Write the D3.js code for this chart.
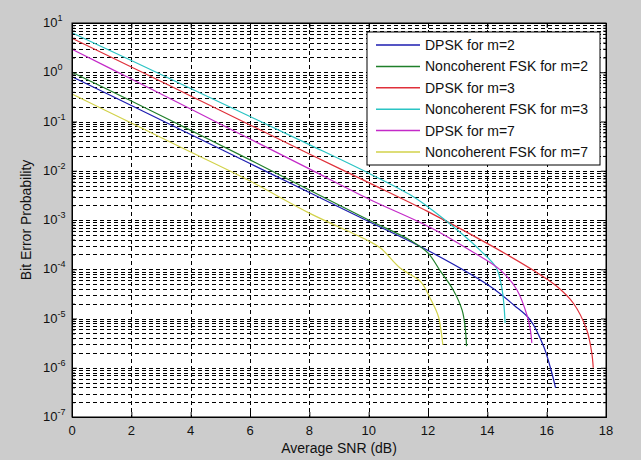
<!DOCTYPE html>
<html>
<head>
<meta charset="utf-8">
<script src="https://cdn.jsdelivr.net/npm/d3@7"></script>
<style>
  body { margin: 0; background: #cccccc; }
  svg { display: block; font-family: "Liberation Sans", Arial, sans-serif; }
</style>
</head>
<body>
<svg id="chart"></svg>
<script>
// Average SNR (dB) and bit error probability
const snrDpsk2 = [0, 2, 4, 6, 8, 10, 12, 14.1, 14.9, 15.45, 15.9, 16.15, 16.3];
const berDpsk2 = [0.81, 0.211, 0.0545, 0.014, 3.61e-3, 9.33e-4, 2.4e-4, 4.47e-5, 1.86e-5, 9.3e-6, 2.7e-6, 8.9e-7, 3.9e-7];

const snrFsk2 = [0, 2, 4, 6, 8, 10, 11.4, 12, 12.4, 12.85, 13.15, 13.25, 13.3];
const berFsk2 = [1.0, 0.261, 0.0661, 0.0166, 4.07e-3, 1.0e-3, 3.89e-4, 2.14e-4, 9.5e-5, 3.8e-5, 1.48e-5, 6.8e-6, 2.75e-6];

const snrDpsk3 = [0, 2, 4, 6, 8, 10, 12, 14.1, 15.55, 16.35, 16.9, 17.35, 17.52, 17.57];
const berDpsk3 = [4.89, 1.28, 0.33, 0.0851, 0.0219, 5.75e-3, 1.48e-3, 3.09e-4, 9.5e-5, 4.47e-5, 2.04e-5, 5.9e-6, 2.0e-6, 1.0e-6];

const snrFsk3 = [0, 2, 4, 6, 8, 10, 11.4, 12.15, 13.1, 13.75, 14.3, 14.5, 14.6];
const berFsk3 = [6.35, 1.73, 0.468, 0.126, 0.0339, 8.91e-3, 3.24e-3, 1.58e-3, 5.5e-4, 2.45e-4, 1.07e-4, 3.8e-5, 8.1e-6];

const snrDpsk7 = [0, 2, 4, 6, 8, 10, 12.05, 13.4, 14.45, 15.0, 15.35, 15.45, 15.5];
const berDpsk7 = [2.92, 0.729, 0.179, 0.0442, 0.0109, 2.67e-3, 7.2e-4, 2.45e-4, 9.5e-5, 3.8e-5, 1.1e-5, 5.9e-6, 3.2e-6];

const snrFsk7 = [0, 2, 4, 6, 8, 9.95, 10.4, 11.05, 11.75, 12.1, 12.35, 12.45, 12.5];
const berFsk7 = [0.361, 0.0933, 0.024, 6.17e-3, 1.38e-3, 3.89e-4, 2.69e-4, 1.07e-4, 5.6e-5, 2.4e-5, 1.1e-5, 5.1e-6, 2.9e-6];

const seriesNames = ["DPSK for m=2", "Noncoherent FSK for m=2", "DPSK for m=3",
                     "Noncoherent FSK for m=3", "DPSK for m=7", "Noncoherent FSK for m=7"];
const seriesColors = ["#1c1cb0", "#1f7f2a", "#e0303a", "#2ac4c4", "#c42ac8", "#d2d24a"];

const xTicks = [0, 2, 4, 6, 8, 10, 12, 14, 16, 18];
const yExponents = [1, 0, -1, -2, -3, -4, -5, -6, -7];

const series = [
  [snrDpsk2, berDpsk2], [snrFsk2, berFsk2], [snrDpsk3, berDpsk3],
  [snrFsk3, berFsk3], [snrDpsk7, berDpsk7], [snrFsk7, berFsk7]
].map(([xs, ys], i) => ({
  name: seriesNames[i],
  color: seriesColors[i],
  values: xs.map((x, j) => ({ snr: x, ber: ys[j] }))
}));

const W = 641, H = 460;
const margin = { top: 23, right: 35, bottom: 43, left: 72 };
const width = W - margin.left - margin.right;
const height = H - margin.top - margin.bottom;

const svg = d3.select("#chart").attr("width", W).attr("height", H);
svg.append("rect").attr("width", W).attr("height", H).attr("fill", "#cccccc");

const chart = svg.append("g").attr("transform", `translate(${margin.left},${margin.top})`);

const xScale = d3.scaleLinear().domain([0, 18]).range([0, width]);
const yScale = d3.scaleLog().domain([1e-7, 10]).range([height, 0]);

chart.append("rect").attr("width", width).attr("height", height).attr("fill", "#ffffff");

// minor + major grid values for the log axis
const yMinor = [];
for (let e = -7; e < 1; e++) {
  for (let k = 2; k <= 9; k++) yMinor.push(k * Math.pow(10, e));
}
const yMajor = yExponents.map(e => Math.pow(10, e));

const grid = chart.append("g").attr("class", "grid")
  .attr("stroke", "#000").attr("stroke-width", 1).attr("stroke-dasharray", "4,3");

grid.selectAll(".hgrid")
  .data(yMajor.concat(yMinor).filter(v => v > 1e-7 && v < 10))
  .enter().append("line")
  .attr("x1", 0).attr("x2", width)
  .attr("y1", d => Math.round(yScale(d)) + 0.5)
  .attr("y2", d => Math.round(yScale(d)) + 0.5);

grid.selectAll(".vgrid")
  .data(xTicks.slice(1, -1))
  .enter().append("line")
  .attr("y1", 0).attr("y2", height)
  .attr("x1", d => Math.round(xScale(d)) + 0.5)
  .attr("x2", d => Math.round(xScale(d)) + 0.5)
  .attr("stroke-dasharray", "4,3");

// curves
const line = d3.line()
  .x(d => xScale(d.snr))
  .y(d => yScale(d.ber))
  .curve(d3.curveCatmullRom.alpha(0.5));

chart.append("g")
  .selectAll("path")
  .data(series)
  .enter().append("path")
  .attr("d", d => line(d.values))
  .attr("fill", "none")
  .attr("stroke", d => d.color)
  .attr("stroke-width", 1.2);

// axes: ticks pointing inward, on all four sides (MATLAB box)
const xAxisBottom = d3.axisBottom(xScale).tickValues(xTicks).tickSize(-5).tickFormat("");
const xAxisTop = d3.axisTop(xScale).tickValues(xTicks).tickSize(-5).tickFormat("");
const yAxisLeft = d3.axisLeft(yScale).tickValues(yMajor).tickSize(-5).tickFormat("");
const yAxisRight = d3.axisRight(yScale).tickValues(yMajor).tickSize(-5).tickFormat("");

chart.append("g").attr("transform", `translate(0,${height})`).call(xAxisBottom);
chart.append("g").call(xAxisTop);
chart.append("g").call(yAxisLeft);
chart.append("g").attr("transform", `translate(${width},0)`).call(yAxisRight);

const minorLeft = d3.axisLeft(yScale).tickValues(yMinor).tickSize(-3).tickFormat("");
const minorRight = d3.axisRight(yScale).tickValues(yMinor).tickSize(-3).tickFormat("");
chart.append("g").call(minorLeft).select(".domain").remove();
chart.append("g").attr("transform", `translate(${width},0)`).call(minorRight).select(".domain").remove();

chart.selectAll(".tick line").attr("stroke", "#000");
chart.selectAll(".domain").attr("stroke", "#000");

// box outline
chart.append("rect").attr("width", width).attr("height", height)
  .attr("fill", "none").attr("stroke", "#000").attr("stroke-width", 1);

// tick labels
chart.selectAll(".xlab")
  .data(xTicks)
  .enter().append("text")
  .attr("x", d => xScale(d))
  .attr("y", height + 18)
  .attr("text-anchor", "middle")
  .attr("font-size", 13)
  .attr("fill", "#111")
  .text(d => d);

const ylab = svg.selectAll(".ylab")
  .data(yExponents)
  .enter().append("text")
  .attr("x", 43)
  .attr("y", d => margin.top + yScale(Math.pow(10, d)) + 4)
  .attr("font-size", 13)
  .attr("fill", "#111");
ylab.append("tspan").text("10");
ylab.append("tspan").attr("dy", -6).attr("font-size", 9).text(d => d);

// axis titles
svg.append("text")
  .attr("x", margin.left + width / 2)
  .attr("y", 453)
  .attr("text-anchor", "middle")
  .attr("font-size", 14)
  .attr("fill", "#111")
  .text("Average SNR (dB)");

svg.append("text")
  .attr("transform", `translate(31,${margin.top + height / 2}) rotate(-90)`)
  .attr("text-anchor", "middle")
  .attr("font-size", 14)
  .attr("fill", "#111")
  .text("Bit Error Probability");

// legend
const legend = svg.append("g").attr("transform", "translate(367,32)");
legend.append("rect")
  .attr("width", 233).attr("height", 133)
  .attr("fill", "#fff").attr("stroke", "#000").attr("stroke-width", 1);

const legendItems = legend.selectAll(".legend-item")
  .data(series)
  .enter().append("g")
  .attr("transform", (d, i) => `translate(0,${13 + i * 21.4})`);

legendItems.append("line")
  .attr("x1", 9).attr("x2", 53)
  .attr("stroke", d => d.color).attr("stroke-width", 1.5);

legendItems.append("text")
  .attr("x", 58).attr("y", 5)
  .attr("font-size", 14)
  .attr("fill", "#111")
  .text(d => d.name);
</script>
</body>
</html>
